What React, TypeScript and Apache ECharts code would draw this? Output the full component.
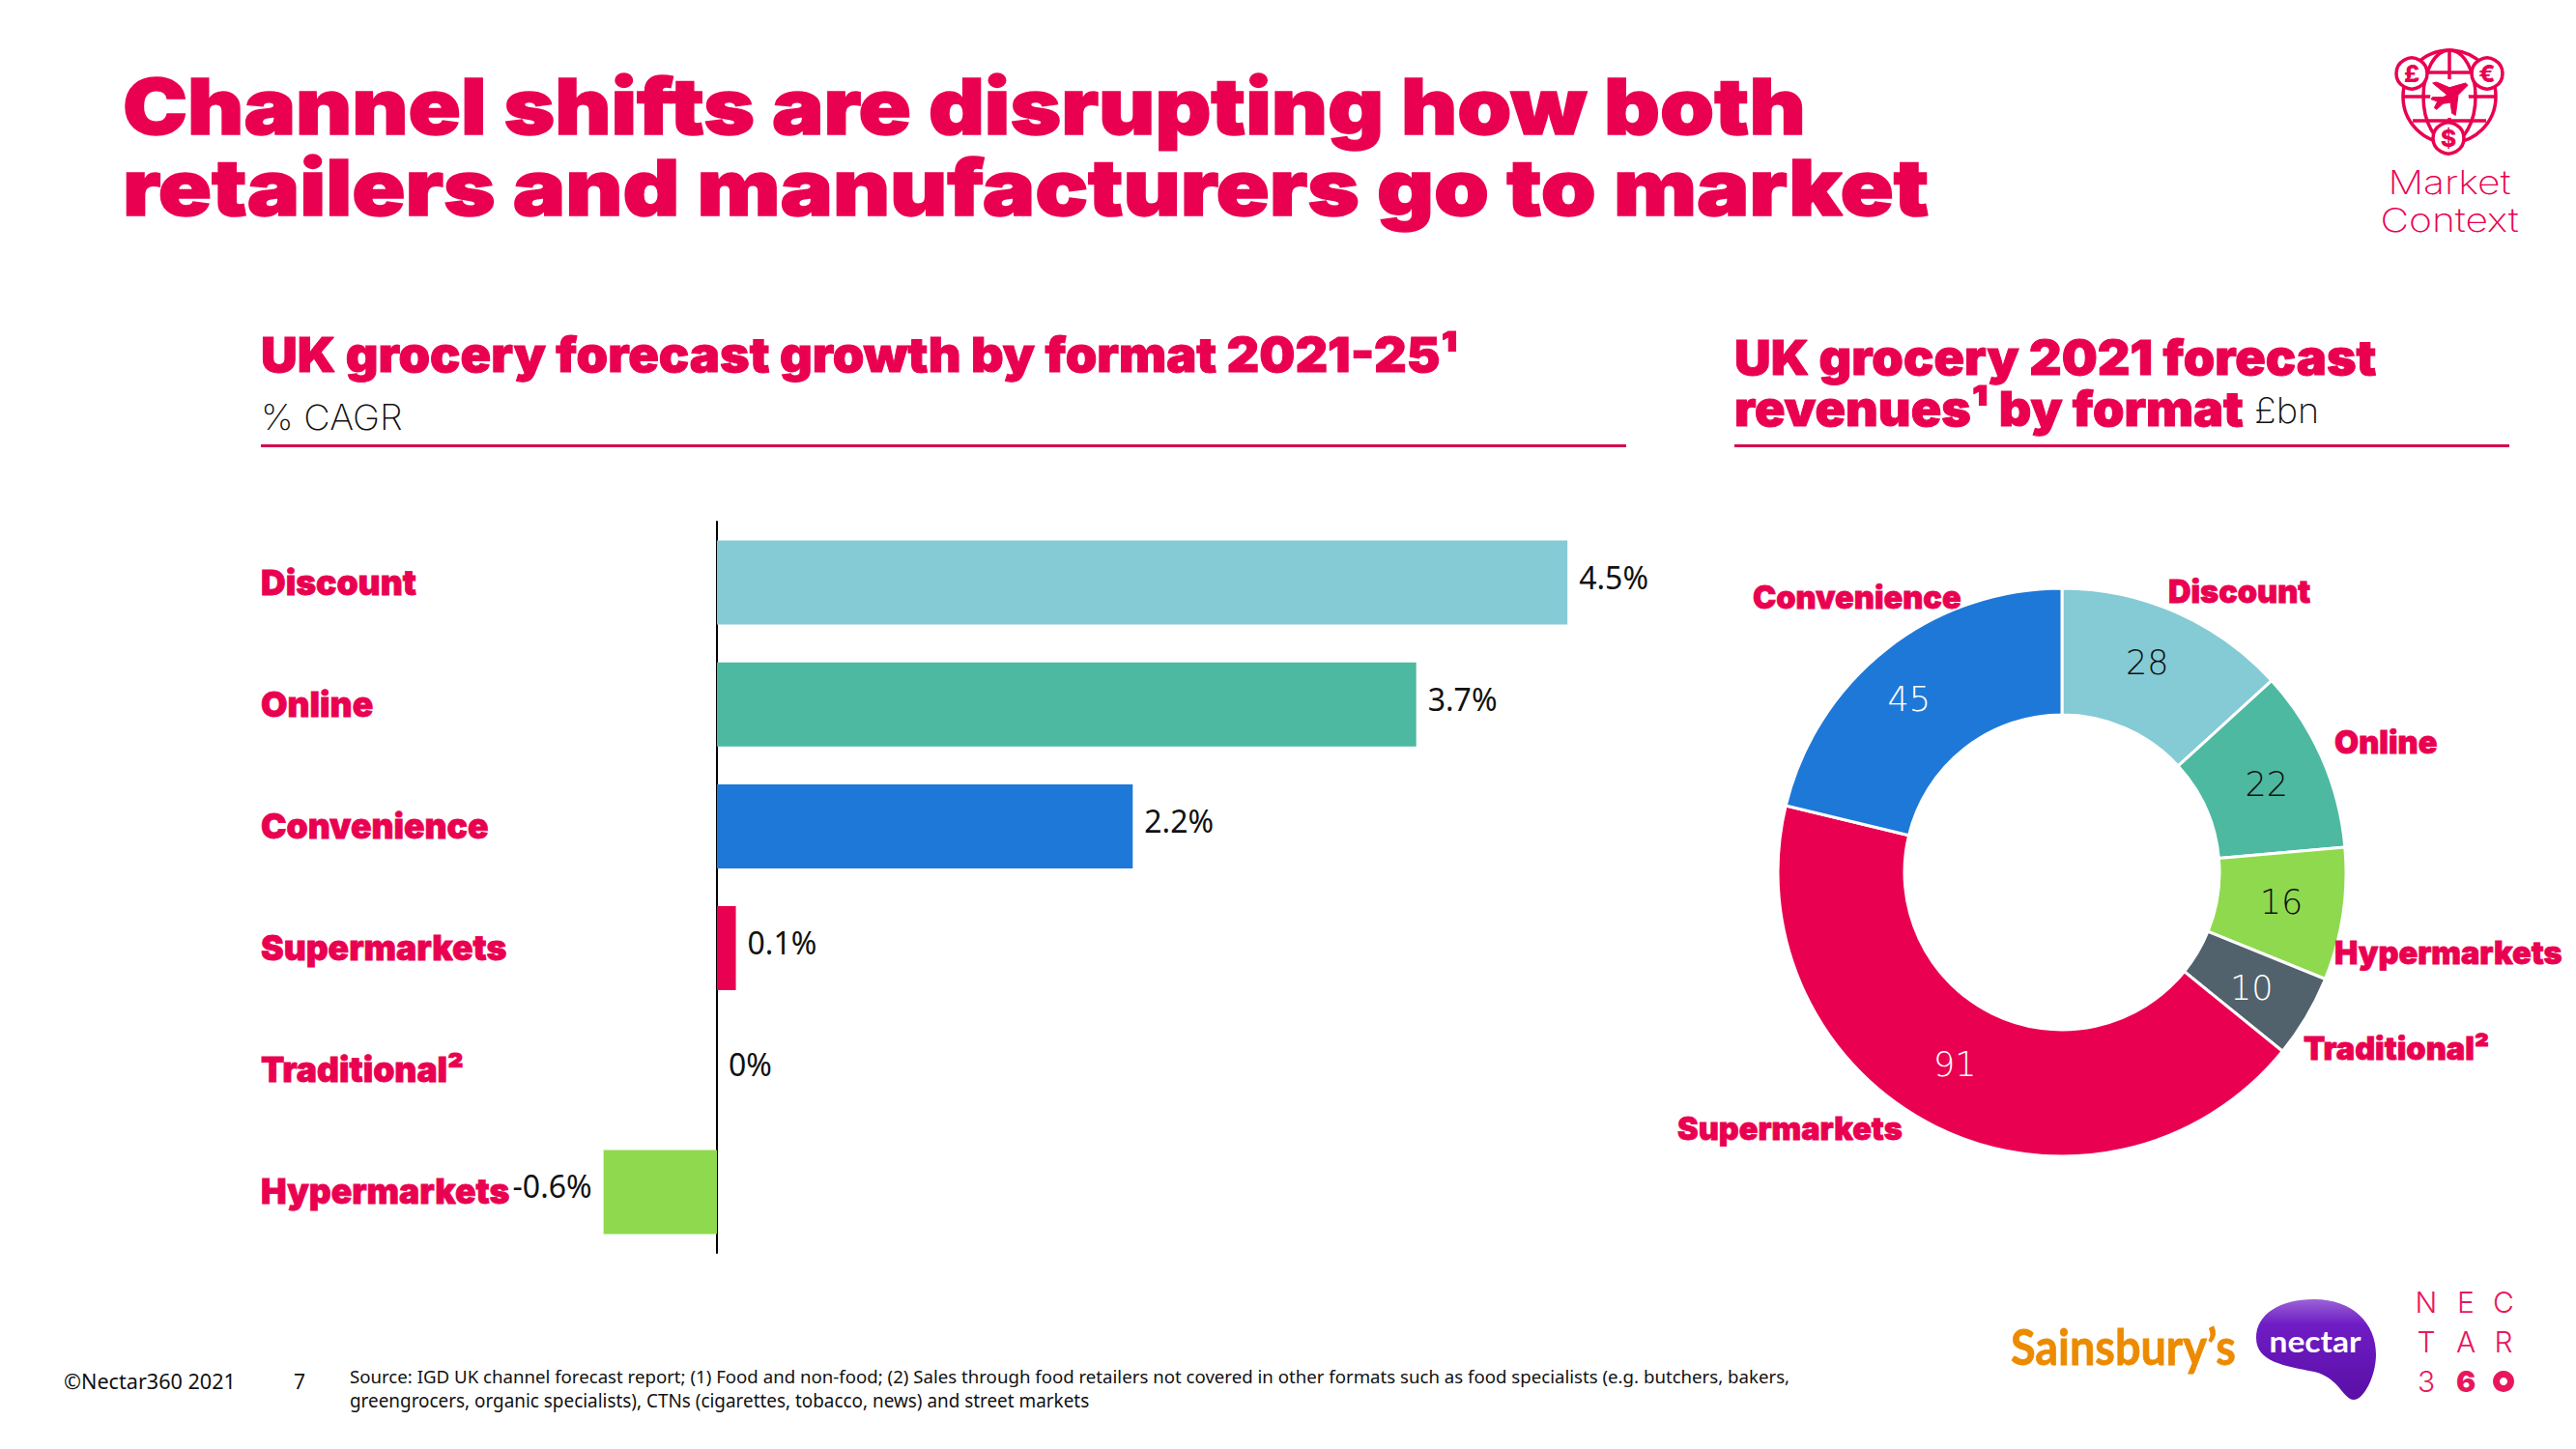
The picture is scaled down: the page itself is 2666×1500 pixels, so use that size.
import React, { useEffect, useRef } from "react";
import * as echarts from "echarts";

const barCategories = ["Discount", "Online", "Convenience", "Supermarkets", "Traditional²", "Hypermarkets"];
const barValues = [4.5, 3.7, 2.2, 0.1, 0, -0.6];
const barColors = ["#84CBD5", "#4DB9A0", "#1E78D8", "#EA0050", "#52626C", "#8FD94F"];

const pieNames = ["Discount", "Online", "Hypermarkets", "Traditional²", "Supermarkets", "Convenience"];
const pieValues = [28, 22, 16, 10, 91, 45];
const pieColors = ["#84CBD5", "#4DB9A0", "#8FD94F", "#52626C", "#EA0050", "#1E78D8"];
const pieTextColors = ["#111", "#111", "#111", "#fff", "#fff", "#fff"];
const pieLabelAnchors = [[2244, 612], [2416, 768], [2416, 986], [2384, 1085], [1736, 1168], [1814, 618]];
const pieValueNudges = [[-5, -5], [0, 2], [-2, -3], [-3, 2], [-8, -8], [-15, 3]];

const PINK = "#EA0050";
const RULE = "#D5004F";
const HEAVY = "Inter";
const LIGHT = "Inter";
const THIN = "'DejaVu Sans'";
const BODY = "'Noto Sans'";

const txt = (x: number, y: number, text: string, o: any = {}) => ({
  type: "text", x, y, scaleX: o.scaleX ?? 1, z: 10,
  style: {
    text, fill: o.fill ?? PINK, fontFamily: o.family ?? HEAVY, fontSize: o.size ?? 40,
    fontWeight: o.weight ?? 900, align: o.align ?? "left", verticalAlign: "middle",
    stroke: o.stroke, lineWidth: o.lineWidth ?? 0,
  },
});

const plane = [[353,168],[365,165],[405,182],[455,168],[462,175],[432,205],[424,268],[413,262],[408,228],[385,232],[365,250],[358,245],[368,225],[348,218],[352,212],[385,212],[398,205]]
  .map(([x, y]) => [2400 + x / 3, 30 + y / 3]);

echarts.graphic.registerShape("nectarBlob", echarts.graphic.extendPath(
  "M2395 1345 C2435 1345 2459 1370 2459 1402 C2459 1425 2446 1449 2436 1449 C2425 1449 2421 1426 2395 1420 C2365 1414 2335 1410 2335 1385 C2335 1360 2360 1345 2395 1345 Z", {}));

const iconStroke = { stroke: PINK, lineWidth: 3.5, fill: "none" };
const coin = (cx: number, cy: number, s: string) => [
  { type: "circle", z: 6, shape: { cx, cy, r: 16 }, style: { stroke: PINK, lineWidth: 3.5, fill: "#fff" } },
  { ...txt(cx, cy, s, { size: 25, weight: 800, align: "center" }), z: 7 },
];

const graphics: any[] = [
  txt(127, 110, "Channel shifts are disrupting how both", { size: 80, scaleX: 1.122, stroke: PINK, lineWidth: 1.5 }),
  txt(127, 194, "retailers and manufacturers go to market", { size: 80, scaleX: 1.14, stroke: PINK, lineWidth: 1.5 }),

  txt(270, 366, "UK grocery forecast growth by format 2021-25¹", { size: 50, scaleX: 1.044, stroke: PINK, lineWidth: 1 }),
  txt(270, 432, "% CAGR", { size: 36, weight: 200, fill: "#111", family: LIGHT, scaleX: 1.05 }),
  { type: "rect", shape: { x: 270, y: 460, width: 1413, height: 3 }, style: { fill: RULE } },

  txt(1795, 370, "UK grocery 2021 forecast", { size: 50, scaleX: 1.043, stroke: PINK, lineWidth: 1 }),
  txt(1795, 423, "revenues¹ by format", { size: 50, scaleX: 1.04, stroke: PINK, lineWidth: 1 }),
  txt(2333, 425, "£bn", { size: 36, weight: 200, fill: "#111", family: LIGHT, scaleX: 1.05 }),
  { type: "rect", shape: { x: 1795, y: 460, width: 802, height: 3 }, style: { fill: RULE } },

  { type: "ellipse", shape: { cx: 2535, cy: 100, rx: 48, ry: 48 }, style: iconStroke },
  { type: "ellipse", shape: { cx: 2535, cy: 100, rx: 27, ry: 48 }, style: iconStroke },
  { type: "line", shape: { x1: 2535, y1: 52, x2: 2535, y2: 148 }, style: iconStroke },
  { type: "line", shape: { x1: 2497, y1: 75, x2: 2573, y2: 75 }, style: iconStroke },
  { type: "line", shape: { x1: 2487, y1: 100, x2: 2583, y2: 100 }, style: iconStroke },
  { type: "line", shape: { x1: 2497, y1: 125, x2: 2573, y2: 125 }, style: iconStroke },
  { type: "circle", z: 4, shape: { cx: 2535, cy: 102, r: 20 }, style: { fill: "#fff" } },
  { type: "polygon", z: 5, shape: { points: plane }, style: { fill: PINK, stroke: PINK, lineWidth: 1 } },
  ...coin(2496, 76, "£"),
  ...coin(2574, 76, "€"),
  ...coin(2534, 143, "$"),
  txt(2535, 189, "Market", { size: 34, weight: 200, family: LIGHT, align: "center", scaleX: 1.2 }),
  txt(2535, 228, "Context", { size: 34, weight: 200, family: LIGHT, align: "center", scaleX: 1.2 }),

  txt(2081, 1393, "Sainsbury’s", { size: 52, weight: 700, family: "Lato", fill: "#EC8A00", scaleX: 0.9, stroke: "#EC8A00", lineWidth: 0.8 }),
  {
    type: "nectarBlob", z: 5,
    style: {
      fill: new echarts.graphic.LinearGradient(0, 0, 0, 1, [
        { offset: 0, color: "#9A63D6" }, { offset: 0.25, color: "#6F1CC4" }, { offset: 1, color: "#5A0FA6" },
      ]),
    },
  },
  { ...txt(2396, 1389, "nectar", { size: 30, weight: 700, fill: "#fff", align: "center", family: "Lato", scaleX: 1.12 }), z: 6 },

  ...["N", "E", "C"].map((s, i) => txt([2511, 2552, 2591][i], 1348, s, { size: 30, weight: 300, family: LIGHT, align: "center", fill: "#E8175D" })),
  ...["T", "A", "R"].map((s, i) => txt([2511, 2552, 2591][i], 1389, s, { size: 30, weight: 300, family: LIGHT, align: "center", fill: "#E8175D" })),
  txt(2511, 1430, "3", { size: 30, weight: 300, family: LIGHT, align: "center", fill: "#E8175D" }),
  txt(2552, 1430, "6", { size: 30, weight: 900, family: HEAVY, align: "center", fill: "#E8175D" }),
  { type: "ring", shape: { cx: 2591, cy: 1430, r: 11, r0: 4 }, style: { fill: "#E8175D" } },

  txt(66, 1430, "©Nectar360 2021", { size: 21, weight: 400, family: BODY, fill: "#111", scaleX: 1.03 }),
  txt(304, 1430, "7", { size: 21, weight: 400, family: BODY, fill: "#111" }),
  txt(362, 1425, "Source: IGD UK channel forecast report; (1) Food and non-food; (2) Sales through food retailers not covered in other formats such as food specialists (e.g. butchers, bakers,", { size: 19, weight: 400, family: BODY, fill: "#111", scaleX: 0.982 }),
  txt(362, 1450, "greengrocers, organic specialists), CTNs (cigarettes, tobacco, news) and street markets", { size: 19, weight: 400, family: BODY, fill: "#111", scaleX: 0.995 }),
];

const option: any = {
  animation: false,
  backgroundColor: "#fff",
  grid: { left: 546.4, top: 540, width: 1173.6, height: 757, containLabel: false, outerBoundsMode: "none" },
  xAxis: { type: "value", min: -1, max: 5, show: false },
  yAxis: {
    type: "category", inverse: true, data: barCategories,
    axisLine: { show: true, onZero: true, lineStyle: { color: "#000", width: 2 } },
    axisTick: { show: false },
    axisLabel: {
      margin: 276.4, align: "left", color: PINK, fontFamily: HEAVY, fontWeight: 900, fontSize: 35.5,
      textBorderColor: PINK, textBorderWidth: 0.8, interval: 0,
    },
  },
  series: [
    {
      type: "bar", barCategoryGap: "31%", z: 2,
      data: barValues.map((v, i) => ({
        value: v,
        itemStyle: { color: barColors[i] },
        label: { position: v < 0 ? "left" : "right" },
      })),
      label: {
        show: true, distance: 12, offset: [0, -6], color: "#111",
        fontFamily: BODY, fontSize: 32, formatter: (p: any) => `${p.value}%`,
      },
    },
    {
      type: "pie", center: [2134, 903], radius: [163, 294], startAngle: 90, clockwise: true, silent: true,
      avoidLabelOverlap: false, z: 3,
      itemStyle: { borderColor: "#fff", borderWidth: 3 },
      data: pieNames.map((n, i) => ({
        name: n, value: pieValues[i],
        itemStyle: { color: pieColors[i] },
        label: { color: pieTextColors[i] },
      })),
      label: { show: true, position: "inside", formatter: "{c}", fontFamily: THIN, fontWeight: 200, fontSize: 35 },
      labelLine: { show: false },
      labelLayout: (p: any) => ({ dx: pieValueNudges[p.dataIndex][0], dy: pieValueNudges[p.dataIndex][1] }),
    },
    {
      type: "pie", center: [2134, 903], radius: [163, 294], startAngle: 90, clockwise: true, silent: true,
      avoidLabelOverlap: false, z: 4,
      itemStyle: { color: "transparent", borderWidth: 0 },
      data: pieNames.map((n, i) => ({ name: n, value: pieValues[i] })),
      label: {
        show: true, position: "outside", formatter: "{b}", color: PINK,
        fontFamily: HEAVY, fontWeight: 900, fontSize: 32.5, textBorderColor: PINK, textBorderWidth: 0.8,
      },
      labelLine: { show: false },
      labelLayout: (p: any) => ({
        x: pieLabelAnchors[p.dataIndex][0], y: pieLabelAnchors[p.dataIndex][1],
        align: "left", verticalAlign: "middle",
      }),
    },
  ],
  graphic: { elements: graphics },
};

export default function App() {
  const ref = useRef<HTMLDivElement>(null);
  useEffect(() => {
    document.body.style.margin = "0";
    const chart = echarts.init(ref.current!, undefined, { renderer: "svg" });
    chart.setOption(option);
    return () => chart.dispose();
  }, []);
  return <div ref={ref} style={{ width: 2666, height: 1500, position: "absolute", left: 0, top: 0, background: "#fff" }} />;
}
